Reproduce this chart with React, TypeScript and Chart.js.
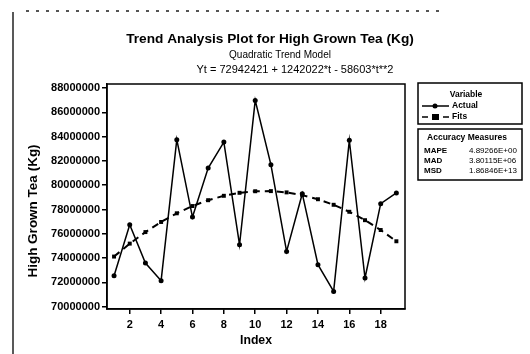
import React, { useEffect, useRef } from "react";
import { Chart, registerables } from "chart.js";

Chart.register(...registerables);

const INDEX = [1, 2, 3, 4, 5, 6, 7, 8, 9, 10, 11, 12, 13, 14, 15, 16, 17, 18, 19];
const ACTUAL = [
  72550000, 76750000, 73590000, 72140000, 83750000, 77380000, 81410000, 83550000, 75100000,
  86980000, 81690000, 74550000, 79300000, 73460000, 71260000, 83690000, 72360000, 78480000,
  79360000,
];
const FITS = [
  74125840, 75192053, 76141060, 76972861, 77687456, 78284845, 78765028, 79128005, 79373776,
  79502341, 79513700, 79407853, 79184800, 78844541, 78387076, 77812405, 77120528, 76311445,
  75385156,
];
const X_TICKS = [2, 4, 6, 8, 10, 12, 14, 16, 18];
const Y_TICKS = [
  70000000, 72000000, 74000000, 76000000, 78000000, 80000000, 82000000, 84000000, 86000000,
  88000000,
];
const TITLE = "Trend Analysis Plot for High Grown Tea (Kg)";
const SUBTITLE = "Quadratic Trend Model";
const EQUATION = "Yt = 72942421 + 1242022*t - 58603*t**2";
const Y_TITLE = "High Grown Tea (Kg)";
const X_TITLE = "Index";
const LEGEND_TITLE = "Variable";
const SERIES_NAMES = ["Actual", "Fits"];
const ACCURACY_TITLE = "Accuracy Measures";
const ACCURACY_LABELS = ["MAPE", "MAD", "MSD"];
const ACCURACY_VALUES = ["4.89266E+00", "3.80115E+06", "1.86846E+13"];

const FONT = '"Liberation Sans", Arial, sans-serif';

function fitText(
  ctx: CanvasRenderingContext2D,
  text: string,
  x: number,
  y: number,
  width: number,
  weight: string,
  align: CanvasTextAlign,
  maxSize = 20
) {
  ctx.font = `${weight} 10px ${FONT}`;
  const w = ctx.measureText(text).width;
  const size = Math.min(maxSize, (10 * width) / w);
  ctx.font = `${weight} ${size}px ${FONT}`;
  ctx.textAlign = align;
  ctx.textBaseline = "middle";
  ctx.fillStyle = "#000";
  ctx.fillText(text, x, y);
}

function sizedText(
  ctx: CanvasRenderingContext2D,
  text: string,
  x: number,
  y: number,
  size: number,
  weight: string,
  align: CanvasTextAlign
) {
  ctx.font = `${weight} ${size}px ${FONT}`;
  ctx.textAlign = align;
  ctx.textBaseline = "middle";
  ctx.fillStyle = "#000";
  ctx.fillText(text, x, y);
}

const decorPlugin = {
  id: "decor",
  afterDraw(chart: any) {
    const ctx: CanvasRenderingContext2D = chart.ctx;
    const ca = chart.chartArea;
    ctx.save();
    // page artifacts
    ctx.strokeStyle = "#222";
    ctx.lineWidth = 1.5;
    ctx.beginPath();
    ctx.moveTo(13, 12);
    ctx.lineTo(13, 354);
    ctx.stroke();
    ctx.setLineDash([3, 7]);
    ctx.lineWidth = 2;
    ctx.strokeStyle = "#555";
    ctx.beginPath();
    ctx.moveTo(26, 11);
    ctx.lineTo(440, 11);
    ctx.stroke();
    ctx.setLineDash([]);

    // plot frame
    ctx.strokeStyle = "#000";
    ctx.lineWidth = 1.5;
    ctx.strokeRect(ca.left, ca.top, ca.right - ca.left, ca.bottom - ca.top);

    // titles
    fitText(ctx, TITLE, 270, 39, 288, "bold", "center", 16);
    sizedText(ctx, SUBTITLE, 280, 55, 10, "normal", "center");
    fitText(ctx, EQUATION, 295, 70, 205, "normal", "center", 11);

    // axis titles
    ctx.save();
    ctx.translate(33, 211);
    ctx.rotate(-Math.PI / 2);
    fitText(ctx, Y_TITLE, 0, 0, 145, "bold", "center", 13.5);
    ctx.restore();
    fitText(ctx, X_TITLE, 256, 341, 32, "bold", "center", 12.5);

    // legend box
    ctx.strokeStyle = "#000";
    ctx.lineWidth = 1.5;
    ctx.strokeRect(418, 83, 104, 41);
    sizedText(ctx, LEGEND_TITLE, 466, 95, 8.5, "bold", "center");
    // Actual
    ctx.beginPath();
    ctx.moveTo(422, 106);
    ctx.lineTo(449, 106);
    ctx.lineWidth = 1.5;
    ctx.stroke();
    ctx.beginPath();
    ctx.arc(435, 106, 2.5, 0, Math.PI * 2);
    ctx.fill();
    sizedText(ctx, SERIES_NAMES[0], 452, 106, 8.5, "bold", "left");
    // Fits
    ctx.beginPath();
    ctx.moveTo(422, 117);
    ctx.lineTo(428, 117);
    ctx.moveTo(443, 117);
    ctx.lineTo(449, 117);
    ctx.stroke();
    ctx.fillRect(432, 114, 7, 6);
    sizedText(ctx, SERIES_NAMES[1], 452, 117, 8.5, "bold", "left");

    // accuracy box
    ctx.strokeRect(418, 129, 104, 51);
    sizedText(ctx, ACCURACY_TITLE, 467, 138, 8.5, "bold", "center");
    const ys = [151, 161, 171];
    ACCURACY_LABELS.forEach((l, i) => {
      sizedText(ctx, l, 424, ys[i], 8, "bold", "left");
      sizedText(ctx, ACCURACY_VALUES[i], 469, ys[i], 8, "normal", "left");
    });
    ctx.restore();
  },
};

export default function App() {
  const ref = useRef<HTMLCanvasElement | null>(null);
  useEffect(() => {
    if (!ref.current) return;
    const chart = new Chart(ref.current, {
      type: "line",
      data: {
        datasets: [
          {
            label: SERIES_NAMES[0],
            data: INDEX.map((x, i) => ({ x, y: ACTUAL[i] })),
            borderColor: "#000",
            backgroundColor: "#000",
            borderWidth: 1.5,
            pointStyle: "circle",
            pointRadius: 2.5,
            pointBorderWidth: 0,
            tension: 0,
          },
          {
            label: SERIES_NAMES[1],
            data: INDEX.map((x, i) => ({ x, y: FITS[i] })),
            borderColor: "#000",
            backgroundColor: "#000",
            borderWidth: 2,
            borderDash: [7, 5],
            pointStyle: "rect",
            pointRadius: 2.8,
            pointBorderWidth: 0,
            tension: 0,
          },
        ],
      },
      options: {
        animation: false,
        responsive: false,
        devicePixelRatio: 1,
        layout: { padding: { left: 0, top: 84, right: 125, bottom: 0 } },
        plugins: { legend: { display: false }, tooltip: { enabled: false } },
        scales: {
          x: {
            type: "linear",
            min: 0.55,
            max: 19.55,
            afterFit: (s: any) => {
              s.height = 45;
            },
            afterBuildTicks: (s: any) => {
              s.ticks = X_TICKS.map((v) => ({ value: v }));
            },
            grid: { drawOnChartArea: false, drawTicks: true, tickLength: 5, color: "#000", lineWidth: 1.5 },
            border: { display: true, color: "#000", width: 1.5 },
            ticks: {
              color: "#000",
              font: { family: FONT, size: 11, weight: "bold" },
              padding: 4,
              maxRotation: 0,
              autoSkip: false,
              callback: (v: any) => String(v),
            },
          },
          y: {
            type: "linear",
            min: 69810000,
            max: 88330000,
            afterFit: (s: any) => {
              s.width = 107;
            },
            afterBuildTicks: (s: any) => {
              s.ticks = Y_TICKS.map((v) => ({ value: v }));
            },
            grid: { drawOnChartArea: false, drawTicks: true, tickLength: 5, color: "#000", lineWidth: 1.5 },
            border: { display: true, color: "#000", width: 1.5 },
            ticks: {
              color: "#000",
              font: { family: FONT, size: 11, weight: "bold" },
              padding: 2,
              autoSkip: false,
              callback: (v: any) => String(v),
            },
          },
        },
      },
      plugins: [decorPlugin],
    } as any);
    return () => chart.destroy();
  }, []);
  return (
    <div style={{ position: "fixed", left: 0, top: 0, width: 530, height: 354, background: "#fff" }}>
      <canvas ref={ref} width={530} height={354} style={{ display: "block" }} />
    </div>
  );
}
